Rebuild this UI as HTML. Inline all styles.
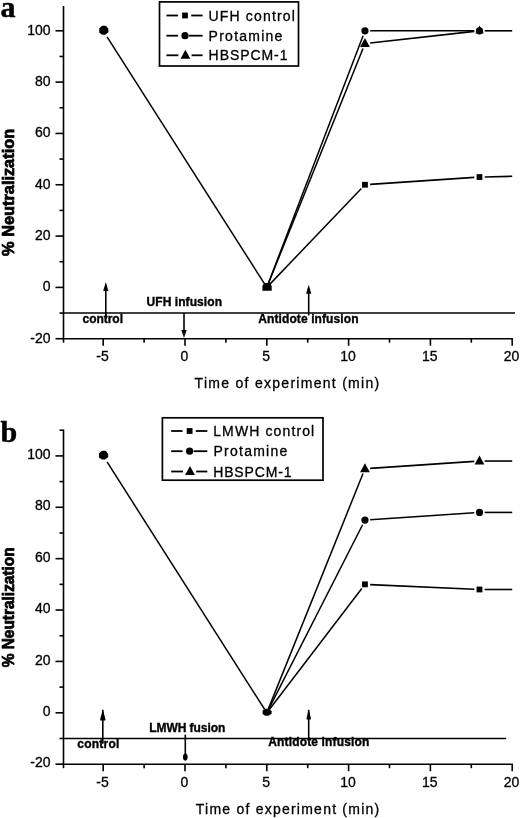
<!DOCTYPE html>
<html lang="en"><head><meta charset="utf-8"><title>Neutralization charts</title>
<style>
html,body{margin:0;padding:0;background:#fff;}
body{width:520px;height:818px;overflow:hidden;}
svg{display:block;}
.ax{stroke:#000;stroke-width:1.6;fill:none;}
.lgl{stroke:#000;stroke-width:1.8;fill:none;}
.lh{stroke:#000;stroke-width:1.6;fill:none;}
.ln{stroke:#000;stroke-width:1.5;fill:none;}
.tk{font-family:"Liberation Sans",Arial,sans-serif;font-size:14px;fill:#000;stroke:#000;stroke-width:0.3;}
.lg{font-family:"Liberation Sans",Arial,sans-serif;font-size:14px;fill:#000;stroke:#000;stroke-width:0.3;}
.xt{font-family:"Liberation Sans",Arial,sans-serif;font-size:14px;fill:#000;stroke:#000;stroke-width:0.3;}
.yt{font-family:"Liberation Sans",Arial,sans-serif;font-size:16px;font-weight:bold;fill:#000;stroke:#000;stroke-width:0.75;}
.an{font-family:"Liberation Sans",Arial,sans-serif;font-size:12px;font-weight:bold;fill:#000;stroke:#000;stroke-width:0.35;}
.pl{font-family:"Liberation Serif","Times New Roman",serif;font-size:30px;font-weight:bold;fill:#000;stroke:#000;stroke-width:0.5;}
</style></head>
<body>
<svg width="520" height="818" viewBox="0 0 520 818">
<rect x="0" y="0" width="520" height="818" fill="#fff"/>
<g id="chart-a">
<line x1="63.5" y1="6.00" x2="63.5" y2="339.42" class="ax"/>
<line x1="62.8" y1="338.72" x2="512.90" y2="338.72" class="ax"/>
<line x1="55.5" y1="338.72" x2="63.5" y2="338.72" class="ax"/>
<text x="50.5" y="342.62" text-anchor="end" class="tk">-20</text>
<line x1="55.5" y1="287.40" x2="63.5" y2="287.40" class="ax"/>
<text x="50.5" y="291.30" text-anchor="end" class="tk">0</text>
<line x1="55.5" y1="236.08" x2="63.5" y2="236.08" class="ax"/>
<text x="50.5" y="239.98" text-anchor="end" class="tk">20</text>
<line x1="55.5" y1="184.76" x2="63.5" y2="184.76" class="ax"/>
<text x="50.5" y="188.66" text-anchor="end" class="tk">40</text>
<line x1="55.5" y1="133.44" x2="63.5" y2="133.44" class="ax"/>
<text x="50.5" y="137.34" text-anchor="end" class="tk">60</text>
<line x1="55.5" y1="82.12" x2="63.5" y2="82.12" class="ax"/>
<text x="50.5" y="86.02" text-anchor="end" class="tk">80</text>
<line x1="55.5" y1="30.80" x2="63.5" y2="30.80" class="ax"/>
<text x="50.5" y="34.70" text-anchor="end" class="tk">100</text>
<line x1="59.5" y1="313.06" x2="63.5" y2="313.06" class="ax"/>
<line x1="59.5" y1="261.74" x2="63.5" y2="261.74" class="ax"/>
<line x1="59.5" y1="210.42" x2="63.5" y2="210.42" class="ax"/>
<line x1="59.5" y1="159.10" x2="63.5" y2="159.10" class="ax"/>
<line x1="59.5" y1="107.78" x2="63.5" y2="107.78" class="ax"/>
<line x1="59.5" y1="56.46" x2="63.5" y2="56.46" class="ax"/>
<line x1="103.20" y1="338.72" x2="103.20" y2="345.72" class="ax"/>
<text x="102.60" y="361.22" text-anchor="middle" class="tk">-5</text>
<line x1="185.00" y1="338.72" x2="185.00" y2="345.72" class="ax"/>
<text x="184.40" y="361.22" text-anchor="middle" class="tk">0</text>
<line x1="266.80" y1="338.72" x2="266.80" y2="345.72" class="ax"/>
<text x="266.20" y="361.22" text-anchor="middle" class="tk">5</text>
<line x1="348.60" y1="338.72" x2="348.60" y2="345.72" class="ax"/>
<text x="348.00" y="361.22" text-anchor="middle" class="tk">10</text>
<line x1="430.40" y1="338.72" x2="430.40" y2="345.72" class="ax"/>
<text x="429.80" y="361.22" text-anchor="middle" class="tk">15</text>
<line x1="512.20" y1="338.72" x2="512.20" y2="345.72" class="ax"/>
<text x="511.60" y="361.22" text-anchor="middle" class="tk">20</text>
<line x1="63.50" y1="338.72" x2="63.50" y2="342.72" class="ax"/>
<line x1="144.10" y1="338.72" x2="144.10" y2="342.72" class="ax"/>
<line x1="225.90" y1="338.72" x2="225.90" y2="342.72" class="ax"/>
<line x1="307.70" y1="338.72" x2="307.70" y2="342.72" class="ax"/>
<line x1="389.50" y1="338.72" x2="389.50" y2="342.72" class="ax"/>
<line x1="471.30" y1="338.72" x2="471.30" y2="342.72" class="ax"/>
<line x1="63.5" y1="313.06" x2="515" y2="313.06" class="ax"/>
<text x="194.6" y="388.42" class="xt" textLength="184.6" lengthAdjust="spacing">Time of experiment (min)</text>
<text transform="translate(14,192.40) rotate(-90)" text-anchor="middle" class="yt" textLength="127" lengthAdjust="spacingAndGlyphs">% Neutralization</text>
<line x1="107.07" y1="36.87" x2="264.54" y2="283.86" class="ln"/>
<line x1="269.70" y1="284.36" x2="361.37" y2="188.52" class="ln"/>
<line x1="370.15" y1="184.41" x2="474.29" y2="177.41" class="lh"/>
<line x1="484.68" y1="176.94" x2="512.20" y2="176.29" class="lh"/>
<line x1="268.30" y1="283.48" x2="363.10" y2="35.66" class="ln"/>
<line x1="370.16" y1="30.80" x2="474.28" y2="30.80" class="lh"/>
<line x1="484.68" y1="30.80" x2="512.20" y2="30.80" class="lh"/>
<line x1="268.37" y1="283.50" x2="363.02" y2="48.45" class="ln"/>
<line x1="370.13" y1="43.05" x2="474.31" y2="31.38" class="lh"/>
<rect x="362.06" y="181.86" width="5.8" height="5.8" fill="#000"/>
<rect x="476.58" y="174.16" width="5.8" height="5.8" fill="#000"/>
<circle cx="364.96" cy="30.80" r="3.6" fill="#000"/>
<circle cx="479.48" cy="30.80" r="3.6" fill="#000"/>
<polygon points="364.96,38.03 360.06,47.03 369.86,47.03" fill="#000"/>
<polygon points="479.48,25.60 475.28,33.40 483.68,33.40" fill="#000"/>
<polygon points="99.2,28.2 102.2,25.7 105.9,25.7 108.4,28.8 108.4,32.2 105.2,34.7 102.0,34.7 99.2,32.5" fill="#000"/>
<polygon points="262.4,290.7 262.4,286 264.2,283 270,283 271.7,286 271.7,290.7" fill="#000"/>
<line x1="105.8" y1="319" x2="105.8" y2="285" class="ax"/><polygon points="105.8,282 103.2,291 108.39999999999999,291" fill="#000"/>
<line x1="184.0" y1="313" x2="184.0" y2="335" class="ax"/><polygon points="184.0,338 181.3,330 186.7,330" fill="#000"/>
<line x1="308.7" y1="315.5" x2="308.7" y2="287.8" class="ax"/><polygon points="308.7,284.8 306.09999999999997,293.8 311.3,293.8" fill="#000"/>
<text x="82.5" y="322.6" class="an" textLength="40.5" lengthAdjust="spacing">control</text>
<text x="146.5" y="306" class="an" textLength="75.5" lengthAdjust="spacing">UFH infusion</text>
<text x="258.3" y="322.6" class="an" textLength="100.2" lengthAdjust="spacing">Antidote infusion</text>
<rect x="159.5" y="1.9" width="139.0" height="64.1" fill="#fff" stroke="#000" stroke-width="1.7"/>
<line x1="166.4" y1="15.5" x2="178" y2="15.5" class="lgl"/>
<line x1="191.2" y1="15.5" x2="202.6" y2="15.5" class="lgl"/>
<rect x="182.10" y="12.60" width="5.8" height="5.8" fill="#000"/>
<text x="208.6" y="20.5" class="lg" textLength="86.2" lengthAdjust="spacing">UFH control</text>
<line x1="166.4" y1="35.7" x2="178" y2="35.7" class="lgl"/>
<line x1="189" y1="35.7" x2="202.6" y2="35.7" class="lgl"/>
<circle cx="185.00" cy="35.70" r="3.6" fill="#000"/>
<text x="208.6" y="40.7" class="lg" textLength="73.8" lengthAdjust="spacing">Protamine</text>
<line x1="166.4" y1="55.3" x2="178.4" y2="55.3" class="lgl"/>
<line x1="191.6" y1="55.3" x2="202.6" y2="55.3" class="lgl"/>
<polygon points="185.40,49.70 180.50,58.70 190.30,58.70" fill="#000"/>
<text x="208.6" y="60.3" class="lg" textLength="78.9" lengthAdjust="spacing">HBSPCM-1</text>
<text x="0.5" y="17" class="pl">a</text>
</g>
<g id="chart-b">
<line x1="63.5" y1="429.60" x2="63.5" y2="764.88" class="ax"/>
<line x1="62.8" y1="764.18" x2="512.90" y2="764.18" class="ax"/>
<line x1="55.5" y1="764.18" x2="63.5" y2="764.18" class="ax"/>
<text x="50.5" y="767.38" text-anchor="end" class="tk">-20</text>
<line x1="55.5" y1="712.80" x2="63.5" y2="712.80" class="ax"/>
<text x="50.5" y="716.00" text-anchor="end" class="tk">0</text>
<line x1="55.5" y1="661.42" x2="63.5" y2="661.42" class="ax"/>
<text x="50.5" y="664.62" text-anchor="end" class="tk">20</text>
<line x1="55.5" y1="610.04" x2="63.5" y2="610.04" class="ax"/>
<text x="50.5" y="613.24" text-anchor="end" class="tk">40</text>
<line x1="55.5" y1="558.66" x2="63.5" y2="558.66" class="ax"/>
<text x="50.5" y="561.86" text-anchor="end" class="tk">60</text>
<line x1="55.5" y1="507.28" x2="63.5" y2="507.28" class="ax"/>
<text x="50.5" y="510.48" text-anchor="end" class="tk">80</text>
<line x1="55.5" y1="455.90" x2="63.5" y2="455.90" class="ax"/>
<text x="50.5" y="459.10" text-anchor="end" class="tk">100</text>
<line x1="59.5" y1="738.49" x2="63.5" y2="738.49" class="ax"/>
<line x1="59.5" y1="687.11" x2="63.5" y2="687.11" class="ax"/>
<line x1="59.5" y1="635.73" x2="63.5" y2="635.73" class="ax"/>
<line x1="59.5" y1="584.35" x2="63.5" y2="584.35" class="ax"/>
<line x1="59.5" y1="532.97" x2="63.5" y2="532.97" class="ax"/>
<line x1="59.5" y1="481.59" x2="63.5" y2="481.59" class="ax"/>
<line x1="59.5" y1="430.21" x2="63.5" y2="430.21" class="ax"/>
<line x1="103.20" y1="764.18" x2="103.20" y2="771.18" class="ax"/>
<text x="102.60" y="786.68" text-anchor="middle" class="tk">-5</text>
<line x1="185.00" y1="764.18" x2="185.00" y2="771.18" class="ax"/>
<text x="184.40" y="786.68" text-anchor="middle" class="tk">0</text>
<line x1="266.80" y1="764.18" x2="266.80" y2="771.18" class="ax"/>
<text x="266.20" y="786.68" text-anchor="middle" class="tk">5</text>
<line x1="348.60" y1="764.18" x2="348.60" y2="771.18" class="ax"/>
<text x="348.00" y="786.68" text-anchor="middle" class="tk">10</text>
<line x1="430.40" y1="764.18" x2="430.40" y2="771.18" class="ax"/>
<text x="429.80" y="786.68" text-anchor="middle" class="tk">15</text>
<line x1="512.20" y1="764.18" x2="512.20" y2="771.18" class="ax"/>
<text x="511.60" y="786.68" text-anchor="middle" class="tk">20</text>
<line x1="63.50" y1="764.18" x2="63.50" y2="768.18" class="ax"/>
<line x1="144.10" y1="764.18" x2="144.10" y2="768.18" class="ax"/>
<line x1="225.90" y1="764.18" x2="225.90" y2="768.18" class="ax"/>
<line x1="307.70" y1="764.18" x2="307.70" y2="768.18" class="ax"/>
<line x1="389.50" y1="764.18" x2="389.50" y2="768.18" class="ax"/>
<line x1="471.30" y1="764.18" x2="471.30" y2="768.18" class="ax"/>
<line x1="63.5" y1="738.49" x2="506.2" y2="738.49" class="ax"/>
<text x="195.8" y="813.88" class="xt" textLength="183.4" lengthAdjust="spacing">Time of experiment (min)</text>
<text transform="translate(14,607.30) rotate(-90)" text-anchor="middle" class="yt" textLength="120" lengthAdjust="spacingAndGlyphs">% Neutralization</text>
<line x1="107.07" y1="461.97" x2="264.54" y2="709.26" class="ln"/>
<line x1="269.35" y1="709.46" x2="361.80" y2="588.48" class="ln"/>
<line x1="370.15" y1="584.58" x2="474.29" y2="589.25" class="lh"/>
<line x1="484.68" y1="589.49" x2="512.20" y2="589.49" class="lh"/>
<line x1="268.71" y1="709.06" x2="362.60" y2="524.76" class="ln"/>
<line x1="370.15" y1="519.78" x2="474.29" y2="512.77" class="lh"/>
<line x1="484.68" y1="512.42" x2="512.20" y2="512.42" class="lh"/>
<line x1="268.37" y1="708.90" x2="363.02" y2="473.57" class="ln"/>
<line x1="370.15" y1="468.40" x2="474.29" y2="461.39" class="lh"/>
<line x1="484.68" y1="461.04" x2="512.20" y2="461.04" class="lh"/>
<rect x="362.06" y="581.45" width="5.8" height="5.8" fill="#000"/>
<rect x="476.58" y="586.59" width="5.8" height="5.8" fill="#000"/>
<circle cx="364.96" cy="520.12" r="3.6" fill="#000"/>
<circle cx="479.48" cy="512.42" r="3.6" fill="#000"/>
<polygon points="364.96,463.14 360.06,472.14 369.86,472.14" fill="#000"/>
<polygon points="479.48,455.44 474.58,464.44 484.38,464.44" fill="#000"/>
<polygon points="99.0,453.2 102.0,450.8 105.7,450.8 108.2,453.9 108.2,457.2 105.0,459.6 101.8,459.6 99.0,457.4" fill="#000"/>
<polygon points="262.6,710.6 265.5,708.7 269.1,708.7 271.6,711.2 271.6,713.8 268.5,715.7 265.3,715.7 262.6,714.0" fill="#000"/>
<line x1="102.8" y1="743.8" x2="102.8" y2="709.7" class="ax"/><polygon points="102.2,711.5 103.39999999999999,711.5 105.39999999999999,719.0 105.39999999999999,720.5 100.2,720.5 100.2,719.0" fill="#000"/>
<line x1="185.3" y1="734.6" x2="185.3" y2="760.3" class="ax"/><ellipse cx="185.3" cy="757" rx="2.3" ry="3.6" fill="#000"/>
<line x1="308.7" y1="739.6" x2="308.7" y2="709.8" class="ax"/><polygon points="308.09999999999997,711.5 309.3,711.5 310.8,718.0 310.8,719.5 306.59999999999997,719.5 306.59999999999997,718.0" fill="#000"/>
<text x="77.3" y="747.6" class="an" textLength="42" lengthAdjust="spacing">control</text>
<text x="149.3" y="731.8" class="an" textLength="76" lengthAdjust="spacing">LMWH fusion</text>
<text x="268.3" y="746.2" class="an" textLength="101" lengthAdjust="spacing">Antidote infusion</text>
<rect x="162.4" y="417.8" width="160.6" height="62.39999999999998" fill="#fff" stroke="#000" stroke-width="1.7"/>
<line x1="171.2" y1="431.0" x2="182.6" y2="431.0" class="lgl"/>
<line x1="195.79999999999998" y1="431.0" x2="207.3" y2="431.0" class="lgl"/>
<rect x="186.70" y="428.10" width="5.8" height="5.8" fill="#000"/>
<text x="213.2" y="436.0" class="lg" textLength="101" lengthAdjust="spacing">LMWH control</text>
<line x1="171.2" y1="451.2" x2="182.6" y2="451.2" class="lgl"/>
<line x1="193.6" y1="451.2" x2="207.3" y2="451.2" class="lgl"/>
<circle cx="189.60" cy="451.20" r="3.6" fill="#000"/>
<text x="213.5" y="456.2" class="lg" textLength="73.8" lengthAdjust="spacing">Protamine</text>
<line x1="171.2" y1="471.5" x2="183" y2="471.5" class="lgl"/>
<line x1="196.2" y1="471.5" x2="207.3" y2="471.5" class="lgl"/>
<polygon points="190.00,465.90 185.10,474.90 194.90,474.90" fill="#000"/>
<text x="213.2" y="476.5" class="lg" textLength="78.3" lengthAdjust="spacing">HBSPCM-1</text>
<text x="0.5" y="442.3" class="pl">b</text>
</g>
</svg>
</body></html>
